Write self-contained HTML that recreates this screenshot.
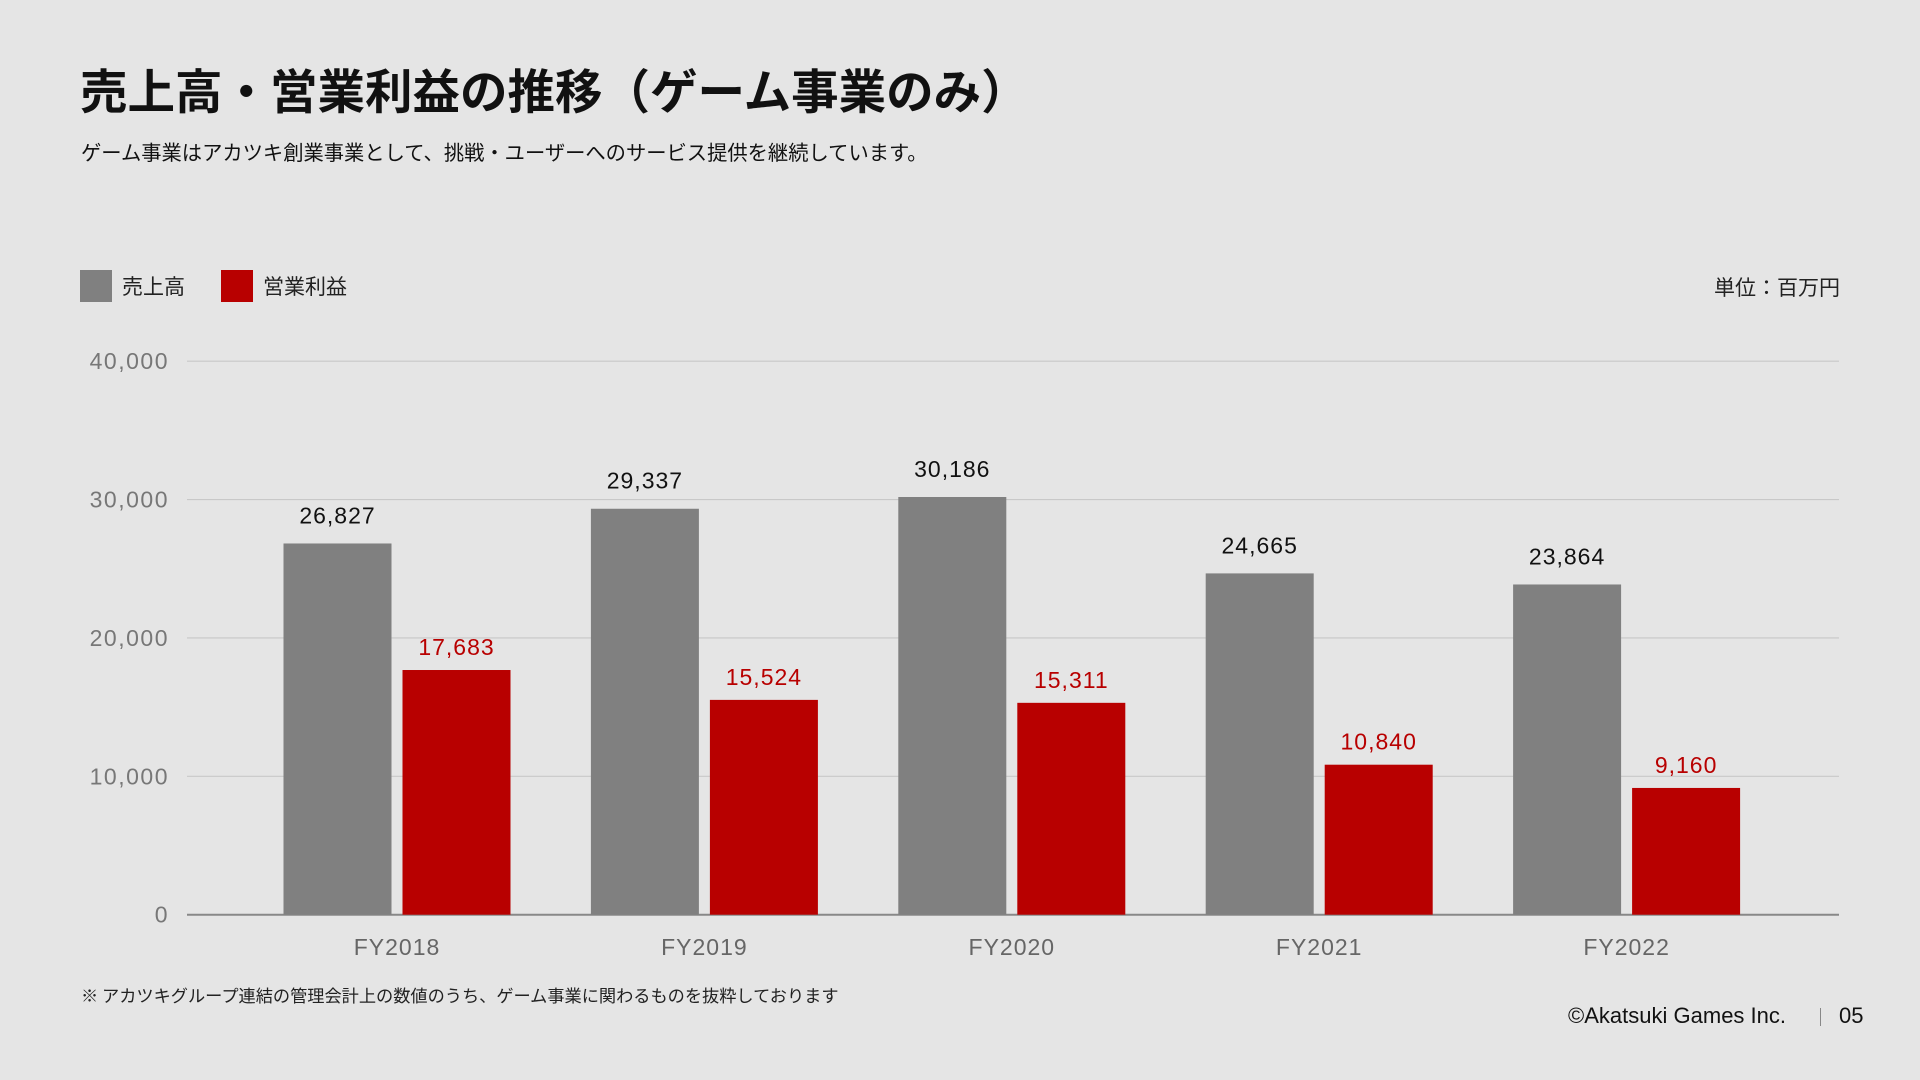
<!DOCTYPE html>
<html><head><meta charset="utf-8">
<style>
body{margin:0;width:1920px;height:1080px;background:#e5e5e5;overflow:hidden;font-family:"Liberation Sans","Noto Sans CJK JP",sans-serif;position:relative}
.t{position:absolute;white-space:nowrap}
</style></head><body>
<div class="t" style="left:80px;top:54px;font-size:47.5px;font-weight:bold;color:#111;font-family:'Noto Sans CJK JP',sans-serif">売上高・営業利益の推移（ゲーム事業のみ）</div>
<div class="t" style="left:81px;top:136px;font-size:20.3px;color:#111;font-family:'Noto Sans CJK JP',sans-serif">ゲーム事業はアカツキ創業事業として、挑戦・ユーザーへのサービス提供を継続しています。</div>
<div class="t" style="left:80px;top:270px;font-size:21px;color:#222;font-family:'Noto Sans CJK JP',sans-serif;display:flex;align-items:center"><span style="display:inline-block;width:32px;height:32px;background:#808080;margin-right:10px"></span>売上高</div>
<div class="t" style="left:221px;top:270px;font-size:21px;color:#222;font-family:'Noto Sans CJK JP',sans-serif;display:flex;align-items:center"><span style="display:inline-block;width:32px;height:32px;background:#b80000;margin-right:10px"></span>営業利益</div>
<div class="t" style="right:80px;top:272px;font-size:21px;color:#222;font-family:'Noto Sans CJK JP',sans-serif">単位：百万円</div>
<svg id="chart" width="1920" height="1080" style="position:absolute;left:0;top:0"></svg>
<div class="t" style="left:81px;top:982px;font-size:17.2px;color:#222;font-family:'Noto Sans CJK JP',sans-serif">※ アカツキグループ連結の管理会計上の数値のうち、ゲーム事業に関わるものを抜粋しております</div>
<div class="t" style="right:134px;top:1003px;font-size:22px;color:#111">©Akatsuki Games Inc.</div>
<div class="t" style="left:1820px;top:1008px;width:1px;height:18px;background:#888"></div>
<div class="t" style="left:1839px;top:1003px;font-size:22px;color:#111">05</div>
<script>
const categories=["FY2018","FY2019","FY2020","FY2021","FY2022"];
const sales=[26827,29337,30186,24665,23864];
const profit=[17683,15524,15311,10840,9160];
const ticks=[0,10000,20000,30000,40000];
const svg=document.getElementById('chart');
const NS='http://www.w3.org/2000/svg';
const y0=914.7,y1=361.2,maxV=40000,x0=187,x1=1839;
const y=v=>y0-(v/maxV)*(y0-y1);
const cx=i=>397+307.4*i;
const bw=108,gap=11;
function el(t,a,txt){const e=document.createElementNS(NS,t);for(const k in a)e.setAttribute(k,a[k]);if(txt!==undefined)e.textContent=txt;svg.appendChild(e);return e;}
const fmt=v=>v.toLocaleString('en-US');
ticks.forEach(t=>{
 const l=el('line',{x1:x0,x2:x1,y1:y(t),y2:y(t),stroke:t===0?'#888':'#c8c8c8','stroke-width':t===0?2:1.2});
 
 
 const tx=el('text',{x:169,y:y(t)+8,'text-anchor':'end','font-size':23,'letter-spacing':1.5,fill:'#777','font-family':'Liberation Sans,sans-serif'},fmt(t));
 
 
});
categories.forEach((c,i)=>{
 const gx=cx(i)-gap/2-bw, rx=cx(i)+gap/2;
 const b1=el('rect',{x:gx,y:y(sales[i]),width:bw,height:y0-y(sales[i]),fill:'#808080'});
 
 
 const b2=el('rect',{x:rx,y:y(profit[i]),width:bw,height:y0-y(profit[i]),fill:'#b80000'});
 
 
 const l1=el('text',{x:gx+bw/2,y:y(sales[i])-20,'text-anchor':'middle','font-size':23,'letter-spacing':1,fill:'#111','font-family':'Liberation Sans,sans-serif'},fmt(sales[i]));
 
 
 const l2=el('text',{x:rx+bw/2,y:y(profit[i])-15,'text-anchor':'middle','font-size':23,'letter-spacing':1,fill:'#b80000','font-family':'Liberation Sans,sans-serif'},fmt(profit[i]));
 
 
 const cl=el('text',{x:cx(i),y:955,'text-anchor':'middle','font-size':23,'letter-spacing':1,fill:'#666','font-family':'Liberation Sans,sans-serif'},c);
 
 
});
</script>
</body></html>
